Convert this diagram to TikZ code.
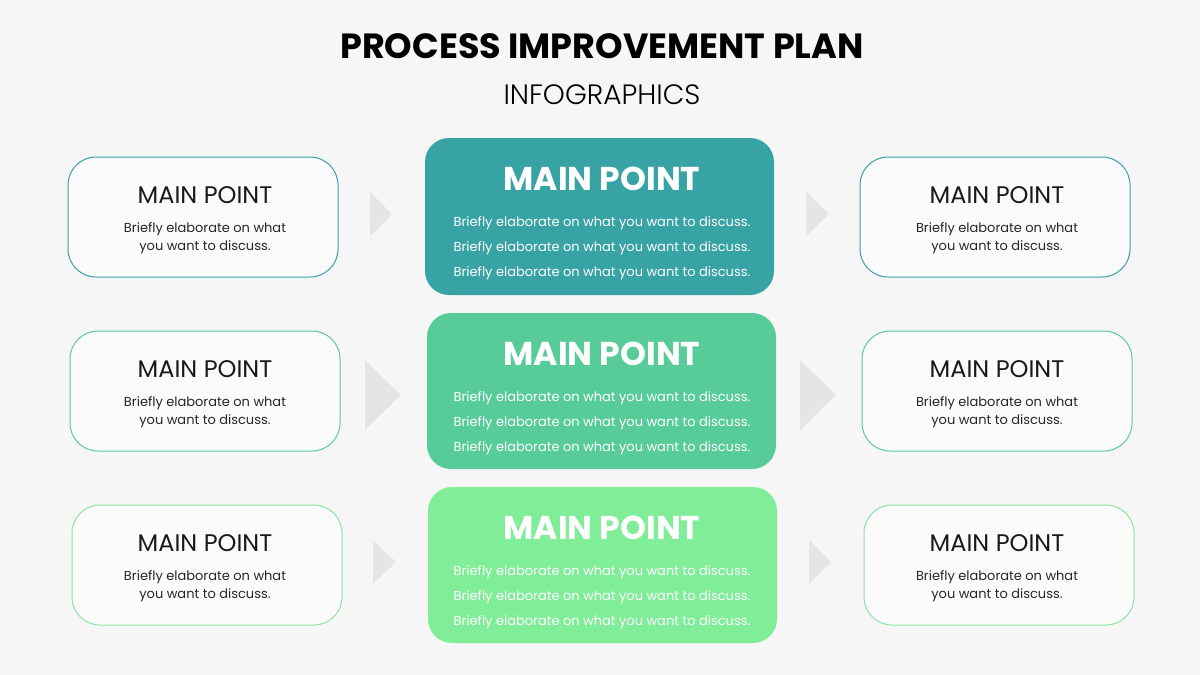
\documentclass[tikz,border=0pt]{standalone}
\usepackage{fontspec}
\setmainfont{Poppins}
\newfontfamily\light{Poppins Light}
\begin{document}
\begin{tikzpicture}[x=1pt,y=-1pt,
 side/.style={draw=#1,line width=1pt,rounded corners=28pt,fill=white!40!gray!5},
 ctr/.style={fill=#1,rounded corners=24pt},
 arr/.style={fill=gray!20,draw=none},
 stitle/.style={font=\fontsize{24}{26}\selectfont,text=black!90},
 stext/.style={font=\fontsize{13}{18.5}\selectfont,align=center,text=black!85},
 ctitle/.style={font=\fontsize{33}{36}\selectfont\bfseries,text=white},
 ctext/.style={font=\fontsize{13}{15}\selectfont,text=white}]
\fill[gray!7] (0,0) rectangle (1200,675);
\node (t) at (602,46) {\fontsize{35}{38}\selectfont\bfseries PROCESS IMPROVEMENT PLAN};
\node (s) at (602,95) {\fontsize{28}{30}\selectfont\light INFOGRAPHICS};
\foreach \i/\y/\dx/\c/\cy/\aw/\ah in {1/157/0/3AA0A8/138/22/22, 2/331/2/5CC8A8/313/36/35, 3/505/4/8AE6A0/487/23/22}{
 \definecolor{bc}{HTML}{\c}
 \draw[side=bc] (68+\dx,\y) rectangle (338+\dx,\y+120);
 \node[stitle] (lt\i) at (205,\y+38) {MAIN POINT};
 \node[stext] (lx\i) at (205,\y+81) {Briefly elaborate on what\\you want to discuss.};
 \draw[side=bc] (860+\dx,\y) rectangle (1130+\dx,\y+120);
 \node[stitle] (rt\i) at (997,\y+38) {MAIN POINT};
 \node[stext] (rx\i) at (997,\y+81) {Briefly elaborate on what\\you want to discuss.};
}
\definecolor{c1}{HTML}{38A3A5}\definecolor{c2}{HTML}{57CC99}\definecolor{c3}{HTML}{80ED99}
\fill[ctr=c1] (425,138) rectangle (774,295);
\fill[ctr=c2] (427,313) rectangle (776,469);
\fill[ctr=c3] (428,487) rectangle (777,643);
\foreach \i/\y in {1/138,2/313,3/487}{
 \node[ctitle] (ct\i) at (602,\y+41) {MAIN POINT};
 \foreach \k in {0,1,2}{
  \node[ctext] (cx\i\k) at (602,\y+85+\k*25) {Briefly elaborate on what you want to discuss.};
 }
}
\fill[arr] (370,192) -- (392,214) -- (370,236) -- cycle;
\fill[arr] (806,192) -- (829,214) -- (806,236) -- cycle;
\fill[arr] (365,360) -- (401,395) -- (365,430) -- cycle;
\fill[arr] (800,360) -- (836,395) -- (800,430) -- cycle;
\fill[arr] (373,540) -- (396,562) -- (373,584) -- cycle;
\fill[arr] (809,540) -- (831,562) -- (809,584) -- cycle;
\end{tikzpicture}
\end{document}
